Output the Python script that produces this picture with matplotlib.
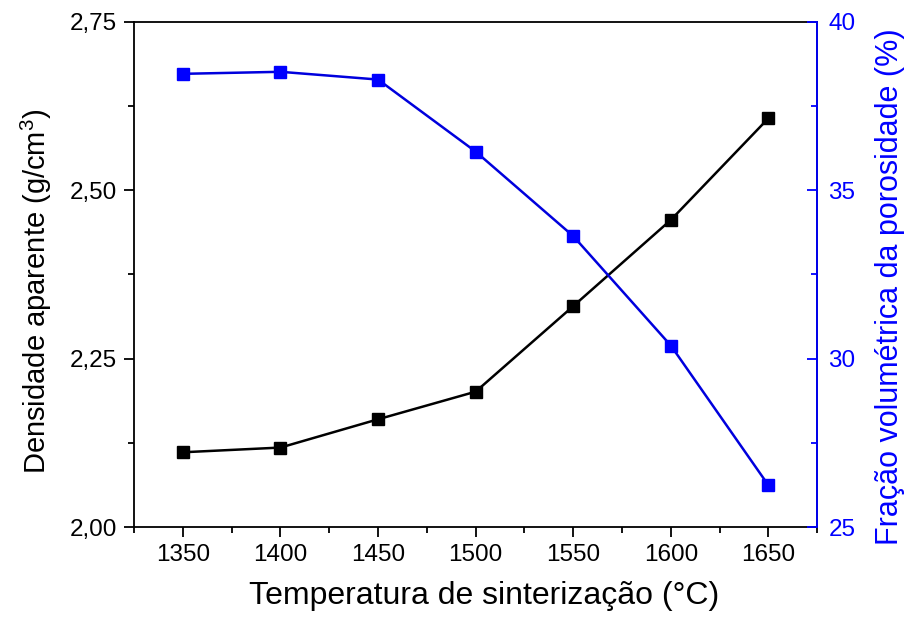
import matplotlib
matplotlib.use("Agg")
import matplotlib.pyplot as plt
from matplotlib.ticker import FuncFormatter, MultipleLocator

plt.rcParams['font.family'] = ['Liberation Sans', 'DejaVu Sans']
plt.rcParams['mathtext.fontset'] = 'custom'
plt.rcParams['mathtext.rm'] = 'Liberation Sans'
plt.rcParams['mathtext.it'] = 'Liberation Sans:italic'

temperatures = [1350, 1400, 1450, 1500, 1550, 1600, 1650]
density = [2.111, 2.118, 2.160, 2.201, 2.328, 2.456, 2.607]
porosity = [38.46, 38.52, 38.29, 36.15, 33.64, 30.39, 26.24]

blue = '#0000FF'

fig = plt.figure(figsize=(9.06, 6.19), dpi=100)
ax = fig.add_subplot(111)
fig.subplots_adjust(left=0.148, right=0.902, top=0.9645, bottom=0.1486)
ax2 = ax.twinx()

ax.plot(temperatures, density, color='black', lw=1.8, marker='s', ms=9,
        markerfacecolor='black', markeredgecolor='black', zorder=3)
ax2.plot(temperatures, porosity, color='#0000DD', lw=1.8, marker='s', ms=9,
         markerfacecolor=blue, markeredgecolor=blue, zorder=3)

ax.set_xlim(1325, 1675)
ax.set_ylim(2.0, 2.75)
ax2.set_ylim(25, 40)

ax.xaxis.set_major_locator(MultipleLocator(50))
ax.xaxis.set_minor_locator(MultipleLocator(25))
ax.yaxis.set_major_locator(MultipleLocator(0.25))
ax.yaxis.set_minor_locator(MultipleLocator(0.125))
ax2.yaxis.set_major_locator(MultipleLocator(5))
ax2.yaxis.set_minor_locator(MultipleLocator(2.5))

ax.yaxis.set_major_formatter(FuncFormatter(lambda v, p: f"{v:.2f}".replace('.', ',')))

for a in (ax, ax2):
    for s in a.spines.values():
        s.set_linewidth(1.3)

ax.tick_params(axis='both', which='major', direction='out', length=7.5, width=1.3,
               labelsize=17.5, pad=5)
ax.tick_params(axis='both', which='minor', direction='out', length=4, width=1.3)
ax.tick_params(top=False, right=False)
ax2.tick_params(axis='y', which='major', direction='in', length=7.5, width=1.3,
                labelsize=17.5, colors=blue, pad=8)
ax2.tick_params(axis='y', which='minor', direction='in', length=4, width=1.3, colors=blue)
ax2.spines['right'].set_color(blue)
ax2.spines['left'].set_visible(False)
ax2.spines['top'].set_visible(False)
ax2.spines['bottom'].set_visible(False)

ax.set_xlabel('Temperatura de sinterização (°C)', fontsize=23, va='center')
ax.xaxis.set_label_coords(0.513, -0.137)
ax.set_ylabel('Densidade aparente (g/cm$^3$)', fontsize=21, va='center')
ax.yaxis.set_label_coords(-0.1435, 0.467)
ax2.set_ylabel('Fração volumétrica da porosidade (%)', fontsize=22, color=blue, va='center')
ax2.yaxis.set_label_coords(1.107, 0.475)

fig.savefig('out.png', dpi=100)
